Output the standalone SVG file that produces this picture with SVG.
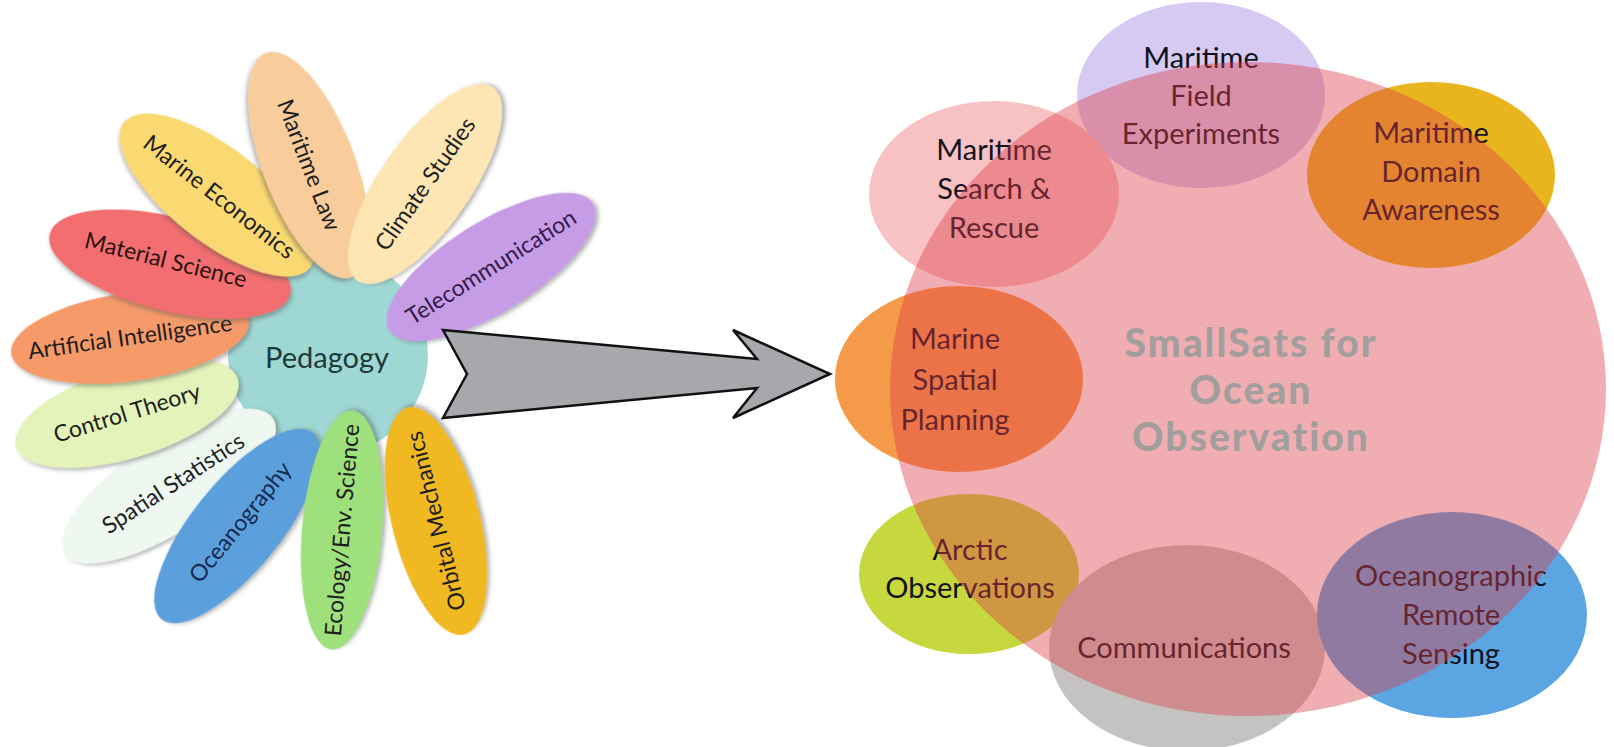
<svg xmlns="http://www.w3.org/2000/svg" width="1614" height="747" viewBox="0 0 1614 747">
<defs>
<filter id="sh" x="-20%" y="-20%" width="140%" height="140%">
<feDropShadow dx="2" dy="3" stdDeviation="2" flood-color="#555" flood-opacity="0.45"/>
</filter>
</defs>
<style>
.pt{font-family:Lato,"Open Sans","Liberation Sans",sans-serif;font-size:23px;fill:#1e1e1e;text-anchor:middle}
.st{font-family:Lato,"Open Sans","Liberation Sans",sans-serif;font-size:29px;fill:#10121c;text-anchor:middle}
.big{font-family:Lato,"Open Sans","Liberation Sans",sans-serif;font-size:39px;font-weight:900;letter-spacing:2px;fill:#a39e9e;text-anchor:middle}
.petal{filter:url(#sh)}
</style>
<rect width="1614" height="747" fill="#ffffff"/>

<g id="flower">
<g id="pedagogy"><circle cx="328" cy="355" r="100" fill="#9fd7d4"/><text class="pt" x="327" y="368" style="font-size:29px;fill:#1c3a3a">Pedagogy</text></g>
<g id="spatial-statistics" transform="translate(169,486) rotate(-33)"><ellipse class="petal" rx="124" ry="45" fill="#eef8f1"/><text class="pt" x="5" y="8">Spatial Statistics</text></g>
<g id="control-theory" transform="translate(127,413) rotate(-17)"><ellipse class="petal" rx="116" ry="45" fill="#e4f3ba"/><text class="pt" x="0" y="8">Control Theory</text></g>
<g id="artificial-intelligence" transform="translate(130,337) rotate(-8)"><ellipse class="petal" rx="120" ry="44" fill="#f79a69"/><text class="pt" x="0" y="8">Artificial Intelligence</text></g>
<g id="material-science" transform="translate(170,264) rotate(14)"><ellipse class="petal" rx="124" ry="47" fill="#f36e6f"/><text class="pt" x="-5" y="5" style="fill:#2a1212">Material Science</text></g>
<g id="marine-economics" transform="translate(217,195) rotate(38)"><ellipse class="petal" rx="118" ry="47" fill="#fad972"/><text class="pt" x="3" y="8">Marine Economics</text></g>
<g id="maritime-law" transform="translate(309,165) rotate(69)"><ellipse class="petal" rx="120" ry="46" fill="#f9cd9b"/><text class="pt" x="0" y="8">Maritime Law</text></g>
<g id="climate-studies" transform="translate(425,184) rotate(-55)"><ellipse class="petal" rx="118" ry="45" fill="#fde6b4"/><text class="pt" x="0" y="8">Climate Studies</text></g>
<g id="telecommunication" transform="translate(491,267) rotate(-32)"><ellipse class="petal" rx="120" ry="45" fill="#c79ce7"/><text class="pt" x="0" y="8" style="fill:#331a48">Telecommunication</text></g>
<g id="oceanography" transform="translate(237,526) rotate(-51)"><ellipse class="petal" rx="120" ry="44" fill="#5b9fdd"/><text class="pt" x="5" y="8" style="fill:#16284f">Oceanography</text></g>
<g id="ecology" transform="translate(342,530) rotate(-85)"><ellipse class="petal" rx="120" ry="40" fill="#9ee07c"/><text class="pt" x="0" y="8">Ecology/Env. Science</text></g>
<g id="orbital-mechanics" transform="translate(436,521) rotate(-104)"><ellipse class="petal" rx="117" ry="44" fill="#f0b923"/><text class="pt" x="0" y="8">Orbital Mechanics</text></g>
</g>

<g id="connectors">
<path d="M443,330 L757,359 L733,330 L830,374 L733,418 L757,388 L443,418 L467,374 Z" fill="#a7a8ac" stroke="#111" stroke-width="2.5" stroke-linejoin="miter"/>
</g>

<g id="field-experiments"><ellipse cx="1201" cy="95" rx="124" ry="93" fill="#d6caf2"/><text class="st" x="1201" y="68">Maritime</text><text class="st" x="1201" y="106">Field</text><text class="st" x="1201" y="144">Experiments</text></g>
<g id="search-rescue"><ellipse cx="994" cy="194" rx="125" ry="93" fill="#f8c2c4"/><text class="st" x="994" y="160">Maritime</text><text class="st" x="994" y="199">Search &amp;</text><text class="st" x="994" y="238">Rescue</text></g>
<g id="domain-awareness"><ellipse cx="1431" cy="175" rx="124" ry="93" fill="#e9b51f"/><text class="st" x="1431" y="143">Maritime</text><text class="st" x="1431" y="182">Domain</text><text class="st" x="1431" y="220">Awareness</text></g>
<g id="spatial-planning"><ellipse cx="959" cy="379" rx="124" ry="93" fill="#f49a48"/><text class="st" x="955" y="349">Marine</text><text class="st" x="955" y="390">Spatial</text><text class="st" x="955" y="430">Planning</text></g>
<g id="arctic"><ellipse cx="969" cy="574" rx="110" ry="80" fill="#c7d83e"/><text class="st" x="970" y="560">Arctic</text><text class="st" x="970" y="598">Observations</text></g>
<g id="communications"><ellipse cx="1187" cy="648" rx="138" ry="103" fill="#c5c3c1"/><text class="st" x="1184" y="658">Communications</text></g>
<g id="remote-sensing"><ellipse cx="1452" cy="615" rx="135" ry="103" fill="#5ba6e2"/><text class="st" x="1451" y="586">Oceanographic</text><text class="st" x="1451" y="625">Remote</text><text class="st" x="1451" y="664">Sensing</text></g>

<g id="smallsats">
<ellipse cx="1248" cy="389" rx="358" ry="327" fill="#de3e48" fill-opacity="0.42"/>
<text class="big" x="1251" y="357">SmallSats for</text>
<text class="big" x="1251" y="404">Ocean</text>
<text class="big" x="1251" y="451">Observation</text>
</g>
</svg>
